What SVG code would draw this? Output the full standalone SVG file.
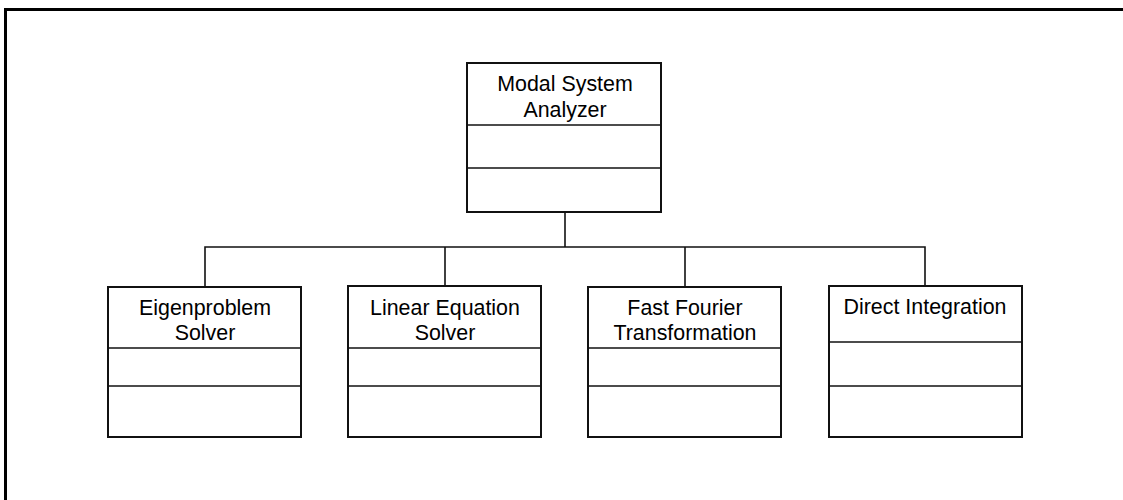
<svg xmlns="http://www.w3.org/2000/svg" width="1123" height="500" viewBox="0 0 1123 500">
  <style>
    .box { fill: #fff; stroke: #111; stroke-width: 2; }
    .div { stroke: #111; stroke-width: 1.6; }
    .wire { fill: none; stroke: #111; stroke-width: 1.6; }
    .lbl { font-family: "Liberation Sans", Arial, sans-serif; font-size: 21.4px; fill: #000; text-anchor: middle; }
  </style>
  <rect width="1123" height="500" fill="#fff"/>
  <!-- outer frame (open at right and bottom) -->
  <path d="M5.5,501 V9.5 H1124" fill="none" stroke="#000" stroke-width="3"/>

  <g id="connectors">
    <path class="wire" d="M565,212 V247"/>
    <path class="wire" d="M205,287 V247 H925 V286"/>
    <path class="wire" d="M445,247 V286"/>
    <path class="wire" d="M685,247 V287"/>
  </g>

  <g id="modal-system-analyzer">
    <rect class="box" x="467" y="63" width="194" height="149"/>
    <line class="div" x1="467" y1="125" x2="661" y2="125"/>
    <line class="div" x1="467" y1="168" x2="661" y2="168"/>
    <text class="lbl" x="565" y="91">Modal System</text>
    <text class="lbl" x="565" y="117">Analyzer</text>
  </g>

  <g id="eigenproblem-solver">
    <rect class="box" x="108" y="287" width="193" height="150"/>
    <line class="div" x1="108" y1="348" x2="301" y2="348"/>
    <line class="div" x1="108" y1="386" x2="301" y2="386"/>
    <text class="lbl" x="205" y="315">Eigenproblem</text>
    <text class="lbl" x="205" y="340">Solver</text>
  </g>

  <g id="linear-equation-solver">
    <rect class="box" x="348" y="286" width="193" height="151"/>
    <line class="div" x1="348" y1="348" x2="541" y2="348"/>
    <line class="div" x1="348" y1="386" x2="541" y2="386"/>
    <text class="lbl" x="445" y="315">Linear Equation</text>
    <text class="lbl" x="445" y="340">Solver</text>
  </g>

  <g id="fast-fourier-transformation">
    <rect class="box" x="588" y="287" width="193" height="150"/>
    <line class="div" x1="588" y1="348" x2="781" y2="348"/>
    <line class="div" x1="588" y1="386" x2="781" y2="386"/>
    <text class="lbl" x="685" y="315">Fast Fourier</text>
    <text class="lbl" x="685" y="340">Transformation</text>
  </g>

  <g id="direct-integration">
    <rect class="box" x="829" y="286" width="193" height="151"/>
    <line class="div" x1="829" y1="342" x2="1022" y2="342"/>
    <line class="div" x1="829" y1="386" x2="1022" y2="386"/>
    <text class="lbl" x="925" y="314">Direct Integration</text>
  </g>
</svg>
